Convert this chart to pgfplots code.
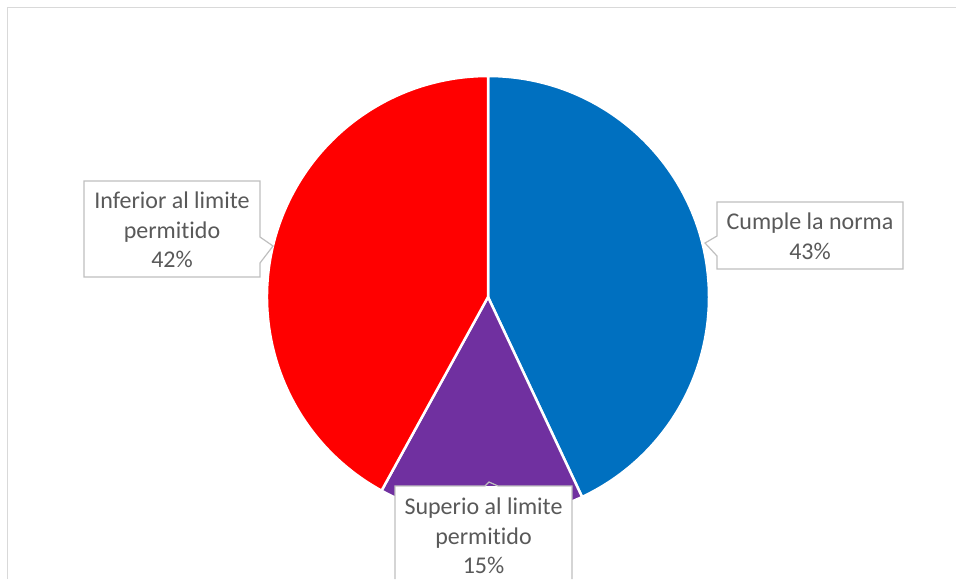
\documentclass[border=0pt]{standalone}
\usepackage{pgfplots}
\pgfplotsset{compat=1.18}
\usepackage{fontspec}
\setmainfont{Carlito}[Ligatures=NoCommon]
\definecolor{cumple}{HTML}{0070C0}
\definecolor{superio}{HTML}{7030A0}
\definecolor{inferior}{HTML}{FF0000}
\definecolor{labelgray}{HTML}{595959}
\definecolor{boxgray}{HTML}{BFBFBF}
\definecolor{framegray}{HTML}{D9D9D9}
% slice values (percent)
\def\vA{43}\def\vB{15}\def\vC{42}
\pgfmathsetmacro\aA{90-3.6*\vA}
\pgfmathsetmacro\aB{\aA-3.6*\vB}
\pgfmathsetmacro\aC{\aB-3.6*\vC}
\begin{document}
\begin{tikzpicture}
\begin{axis}[x=1pt, y=1pt, xmin=0, xmax=956, ymin=0, ymax=579, y dir=reverse,
  hide axis, clip=false, scale only axis]
\addplot[draw=none, forget plot] coordinates {(0,0) (956,579)};
\coordinate (bl) at (axis cs:0,579);
\coordinate (tr) at (axis cs:956,0);
% frame
\draw[framegray, line width=1.5pt] (axis cs:7.5,579) -- (axis cs:7.5,7.5) -- (axis cs:956,7.5);
% slices
\coordinate (C) at (axis cs:488,297);
\filldraw[fill=cumple, draw=white, line width=2.5pt, line join=round]
  (C) -- ([shift={(90:221pt)}]C) arc[start angle=90, end angle=\aA, radius=221pt] -- cycle;
\filldraw[fill=superio, draw=white, line width=2.5pt, line join=round]
  (C) -- ([shift={(\aA:221pt)}]C) arc[start angle=\aA, end angle=\aB, radius=221pt] -- cycle;
\filldraw[fill=inferior, draw=white, line width=2.5pt, line join=round]
  (C) -- ([shift={(\aB:221pt)}]C) arc[start angle=\aB, end angle=\aC, radius=221pt] -- cycle;
% label boxes
\filldraw[fill=white, draw=boxgray, line width=1.2pt]
  (axis cs:84,181) -- (axis cs:260,181) -- (axis cs:260,237) -- (axis cs:273,246)
  -- (axis cs:260,263) -- (axis cs:260,277) -- (axis cs:84,277) -- cycle;
\filldraw[fill=white, draw=boxgray, line width=1.2pt]
  (axis cs:717,202) -- (axis cs:903,202) -- (axis cs:903,269) -- (axis cs:717,269)
  -- (axis cs:717,256) -- (axis cs:705,243) -- (axis cs:717,236) -- cycle;
\fill[white] (axis cs:395,486) rectangle (axis cs:572,579);
\draw[boxgray, line width=1.2pt]
  (axis cs:395,579) -- (axis cs:395,486) -- (axis cs:485,486) -- (axis cs:489,482) -- (axis cs:498,486)
  -- (axis cs:572,486) -- (axis cs:572,579);
\node[font=\fontsize{24}{29.5}\selectfont, text=labelgray, align=center, inner sep=0pt]
  at (axis cs:172,230) {Inferior al limite\\permitido\\42\%};
\node[font=\fontsize{24}{29.5}\selectfont, text=labelgray, align=center, inner sep=0pt]
  at (axis cs:810,236.5) {Cumple la norma\\43\%};
\node[font=\fontsize{24}{29.5}\selectfont, text=labelgray, align=center, inner sep=0pt, anchor=north]
  at (axis cs:483.5,498) {Superio al limite\\permitido\\15\%};
\end{axis}
\pgfresetboundingbox
\path (bl) rectangle (tr);
\end{tikzpicture}
\end{document}
